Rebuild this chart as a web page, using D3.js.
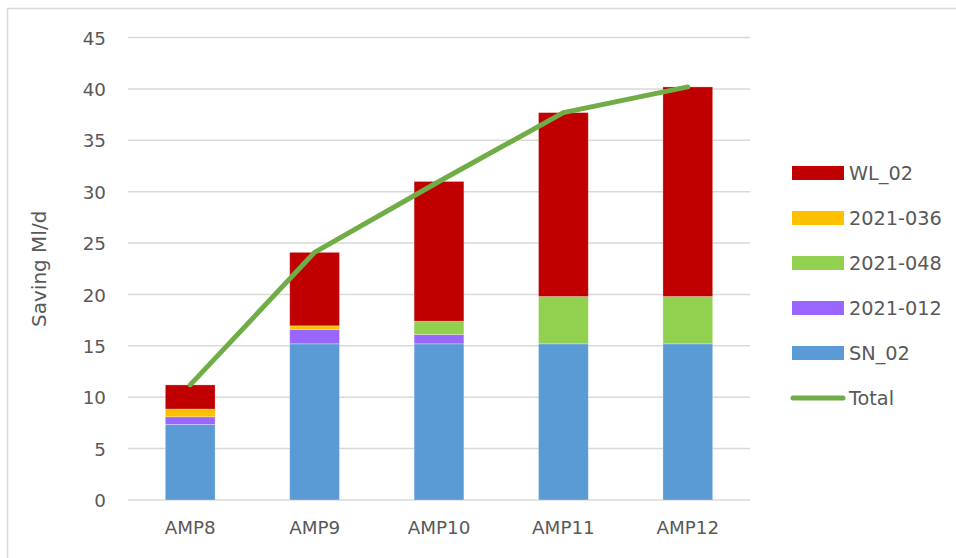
<!DOCTYPE html>
<html>
<head>
<meta charset="utf-8">
<script src="https://cdn.jsdelivr.net/npm/d3@7"></script>
<style>
  html, body { margin: 0; padding: 0; background: #fff; }
  svg { display: block; font-family: "DejaVu Sans", "Liberation Sans", sans-serif; }
</style>
</head>
<body>
<svg id="chart" width="956" height="558"></svg>
<script>
// Categories and series (Ml/d saving per AMP period)
const categories = ["AMP8", "AMP9", "AMP10", "AMP11", "AMP12"];
const sn02      = [7.35, 15.2, 15.2, 15.2, 15.2];
const s2021_012 = [0.75, 1.4, 0.9, 0, 0];
const s2021_048 = [0, 0, 1.3, 4.6, 4.6];
const s2021_036 = [0.75, 0.35, 0, 0, 0];
const wl02      = [2.35, 7.15, 13.6, 17.9, 20.4];
const total     = [11.2, 24.1, 31.0, 37.7, 40.2];
const yTicks    = [0, 5, 10, 15, 20, 25, 30, 35, 40, 45];

// Stack order from bottom to top
const series = [
  { name: "SN_02",    values: sn02,      color: "#5B9BD5" },
  { name: "2021-012", values: s2021_012, color: "#9966FF" },
  { name: "2021-048", values: s2021_048, color: "#92D050" },
  { name: "2021-036", values: s2021_036, color: "#FFC000" },
  { name: "WL_02",    values: wl02,      color: "#C00000" }
];
const legendOrder = ["WL_02", "2021-036", "2021-048", "2021-012", "SN_02"];

const svg = d3.select("#chart");
const textColor = "#595959";
const fontFamily = '"DejaVu Sans", "Liberation Sans", sans-serif';

// Outer frame (top and left edges)
svg.append("line").attr("x1", 7).attr("x2", 956).attr("y1", 8.5).attr("y2", 8.5)
  .attr("stroke", "#d9d9d9").attr("stroke-width", 1.5);
svg.append("line").attr("x1", 7.5).attr("x2", 7.5).attr("y1", 8).attr("y2", 558)
  .attr("stroke", "#d9d9d9").attr("stroke-width", 1.5);

const plot = { left: 128, right: 750, top: 37.6, bottom: 500 };

const x = d3.scaleBand().domain(categories).range([plot.left, plot.right]).padding(0);
const y = d3.scaleLinear().domain([0, 45]).range([plot.bottom, plot.top]);
const barW = x.bandwidth() * 0.4;

// Gridlines
svg.append("g").selectAll("line").data(yTicks).join("line")
  .attr("x1", plot.left).attr("x2", plot.right)
  .attr("y1", d => y(d)).attr("y2", d => y(d))
  .attr("stroke", "#d9d9d9").attr("stroke-width", 1.5);

// Y axis labels
const yAxis = svg.append("g").attr("transform", `translate(${plot.left - 22},0)`)
  .call(d3.axisLeft(y).tickValues(yTicks).tickSize(0).tickPadding(0));
yAxis.attr("font-family", fontFamily).attr("font-size", 18.3);
yAxis.select(".domain").remove();
yAxis.selectAll("text").attr("fill", textColor).attr("dy", "0.36em");

// X axis labels
const xAxis = svg.append("g").attr("transform", `translate(0,${plot.bottom})`)
  .call(d3.axisBottom(x).tickSize(0).tickPadding(0));
xAxis.attr("font-family", fontFamily).attr("font-size", 18.3);
xAxis.select(".domain").remove();
xAxis.selectAll("text").attr("fill", textColor).attr("dy", null).attr("y", 34);

// Y axis title
svg.append("text")
  .attr("transform", `translate(39,${(plot.top + plot.bottom) / 2}) rotate(-90)`)
  .attr("text-anchor", "middle").attr("dy", "0.36em")
  .attr("fill", textColor).attr("font-size", 20)
  .text("Saving Ml/d");

// Stacked bars
const rows = categories.map((c, i) => {
  const r = { cat: c };
  series.forEach(s => r[s.name] = s.values[i]);
  return r;
});
const stacked = d3.stack().keys(series.map(s => s.name))(rows);
const colorOf = Object.fromEntries(series.map(s => [s.name, s.color]));

svg.append("g").selectAll("g").data(stacked).join("g")
  .attr("fill", d => colorOf[d.key])
  .selectAll("rect").data(d => d.filter(p => p[1] - p[0] > 0)).join("rect")
  .attr("x", d => x(d.data.cat) + (x.bandwidth() - barW) / 2)
  .attr("width", barW)
  .attr("y", d => y(d[1]))
  .attr("height", d => y(d[0]) - y(d[1]))
  .attr("stroke", "#ffffff").attr("stroke-opacity", 0.35).attr("stroke-width", 0.8);

// Total line
const line = d3.line()
  .x((d, i) => x(categories[i]) + x.bandwidth() / 2)
  .y(d => y(d));
svg.append("path").datum(total)
  .attr("d", line)
  .attr("fill", "none").attr("stroke", "#70AD47")
  .attr("stroke-width", 5).attr("stroke-linecap", "round").attr("stroke-linejoin", "round");

// Legend
const legend = svg.append("g").attr("font-size", 19.3);
const legY0 = 173, legStep = 45;
legendOrder.forEach((name, i) => {
  const g = legend.append("g").attr("transform", `translate(0,${legY0 + i * legStep})`);
  g.append("rect").attr("x", 792).attr("y", -7).attr("width", 52).attr("height", 14)
    .attr("fill", colorOf[name]);
  g.append("text").attr("x", 849).attr("dy", "0.36em").attr("fill", textColor).text(name);
});
const lg = legend.append("g").attr("transform", `translate(0,${legY0 + 5 * legStep})`);
lg.append("line").attr("x1", 793).attr("x2", 843).attr("y1", 0).attr("y2", 0)
  .attr("stroke", "#70AD47").attr("stroke-width", 5).attr("stroke-linecap", "round");
lg.append("text").attr("x", 849).attr("dy", "0.36em").attr("fill", textColor).text("Total");
</script>
</body>
</html>
